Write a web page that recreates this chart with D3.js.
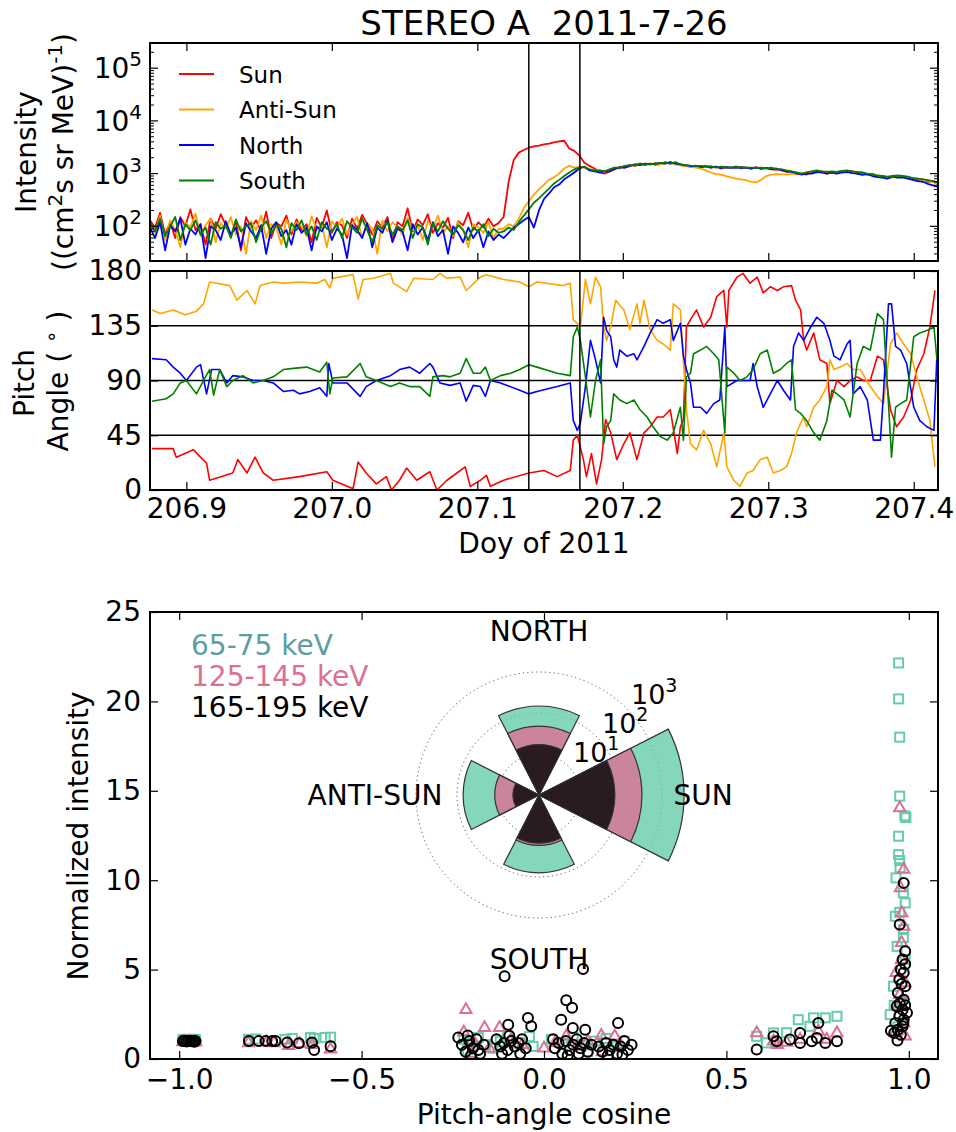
<!DOCTYPE html>
<html>
<head>
<meta charset="utf-8">
<script src="https://cdn.jsdelivr.net/npm/d3@7"></script>
<style>
  body { margin: 0; background: #fff; }
  svg { display: block; }
  text { white-space: pre; }
</style>
</head>
<body>
<svg id="fig" width="956" height="1132"></svg>
<script>
// ---------------------------------------------------------------
// STEREO A, 2011-07-26: sectored electron intensities, pitch angles
// of the four sectors, and normalized intensity vs pitch-angle cosine.
// ---------------------------------------------------------------

// Time base: minutes after 21:00 UT on DOY 206, 5-minute cadence
const startDoy = 206.875;
const endDoy = 207.41667;
const cadenceMin = 5;
const doyTicks = [206.9, 207.0, 207.1, 207.2, 207.3, 207.4];
const eventDoys = [207.1354, 207.1705];

// Sector intensities, (cm^2 s sr MeV)^-1
const sunFlux = [130,95,180,70,120,60,150,100,210,85, 110,45,140,90,170,105,65,125,35,150,
  95,130,80,190,60,115,100,160,70,135, 85,110,50,145,95,200,75,120,105,60,
  140,90,165,110,70,125,95,150,55,120, 100,220,80,135,105,170,75,115,95,145,
  60,125,105,180,85,120,95,140,100,115,
  150,700,1800,2500,2800,3100,3300,3400,3600,3700,3900,4100,4200,3000,2700,2200,1600,1400,1250,
  1050,1000,1100,1200,1350,1300,1450,1400,1550,1450, 1550,1480,1500,1650,1550,1600,1450,1400,1350,1420,
  1300,1380,1300,1350,1250,1320,1280,1350,1260,1300, 1250,1320,1230,1280,1220,1180,1200,1080,1100,980,
  1000,960,1080,1050,1100,1000,1080,1020,1100,1050, 1120,1000,1040,950,980,880,900,820,880,860,
  900,830,820,760,780,700,720,630];
const antiSunFlux = [110,75,160,55,130,85,40,120,95,175, 65,105,140,50,115,90,150,70,100,30,
  125,85,160,60,110,95,45,135,80,120, 100,65,155,85,110,40,125,95,140,70,
  105,150,60,115,90,30,130,80,120,95, 70,145,85,110,55,125,90,160,75,100,
  65,120,85,40,110,95,75,120,60,90,
  90,110,100,140,220,300,400,500,620,760,850,1000,1250,1400,1300,1350,1300,1200,1150,
  1150,1100,1200,1300,1250,1400,1350,1500,1450,1550, 1480,1600,1500,1550,1650,1500,1450,1400,1350,1300,
  1250,1150,1050,980,960,900,850,800,780,750, 700,680,760,900,960,980,970,960,980,1000,
  1000,1050,1080,1120,1050,1100,1030,1080,1120,1060, 1100,1020,1050,960,1000,920,880,860,840,900,
  870,860,820,800,760,740,690,640];
const northFlux = [95,60,120,35,105,80,140,45,90,70, 110,25,100,85,55,125,70,95,40,115,
  80,60,105,30,90,120,65,85,45,110, 75,95,35,100,80,120,55,90,70,25,
  105,85,60,115,40,95,75,130,50,90, 80,35,110,70,95,55,120,65,85,30,
  100,75,50,95,60,85,40,80,55,70,
  60,75,95,110,130,150,95,200,330,420,550,620,780,900,1050,1250,1350,1150,1100,
  1050,1100,1100,1250,1300,1300,1400,1500,1450,1550, 1500,1550,1600,1550,1650,1550,1500,1450,1380,1400,
  1350,1380,1300,1350,1280,1320,1300,1280,1320,1300, 1250,1300,1250,1280,1200,1250,1150,1100,1080,1020,
  960,1000,1000,1080,1050,1000,1040,1000,1050,1080, 1020,1000,950,980,900,860,840,800,880,840,
  850,800,760,720,700,640,600,560];
const southFlux = [120,80,140,65,100,150,55,110,85,130, 70,95,45,120,90,105,60,135,80,100,
  115,50,95,125,75,105,90,40,115,85, 130,70,100,55,120,90,80,110,60,125,
  95,75,140,85,50,105,90,120,70,100, 85,130,60,110,95,45,115,80,125,90,
  70,105,85,55,95,80,110,65,90,75,
  80,95,85,120,160,210,280,340,420,520,650,760,900,1050,1200,1300,1350,1200,1150,
  1150,1100,1200,1300,1300,1400,1450,1450,1550,1500, 1550,1500,1600,1600,1550,1650,1500,1450,1420,1400,
  1400,1350,1380,1300,1350,1320,1300,1350,1320,1300, 1300,1280,1300,1250,1300,1220,1200,1150,1100,1050,
  1000,1050,1100,1150,1100,1080,1100,1080,1120,1150, 1100,1080,1050,1000,980,920,900,880,900,920,
  900,880,820,800,780,750,720,680];

// Sector pitch angles: [minutes after 21:00 UT, degrees]
const sunPitch = [[2,34],[23,34],[26,27],[43,33],[50,27],[56,22],[59,8],[82,14],[87,25],[96,14],[104,27],[112,14],
  [122,8],[148,11],[175,15],[181,8],[201,1],[206,23],[214,14],[224,5],[234,11],[239,0],[247,8],[254,18],[264,8],
  [277,15],[284,0],[294,8],[312,19],[317,3],[327,8],[333,12],[337,3],[350,8],[375,14],[390,16],[403,11],[416,16],
  [419,41],[423,45],[429,25],[432,11],[437,30],[442,5],[447,25],[451,58],[456,47],[462,25],[469,38],[475,47],
  [482,25],[489,47],[495,52],[502,60],[508,60],[515,66],[522,30],[525,52],[528,58],[531,134],[535,140],[541,148],
  [548,134],[555,142],[561,159],[568,164],[571,134],[573,164],[581,175],[587,178],[594,170],[601,175],[607,162],
  [614,167],[621,164],[627,167],[635,168],[639,156],[644,148],[647,123],[650,115],[657,129],[663,107],[670,104],
  [673,71],[680,90],[687,85],[693,90],[700,93],[706,90],[713,90],[720,110],[726,107],[733,66],[739,52],[746,60],
  [753,74],[759,99],[766,112],[772,134],[777,164]];
const antiSunPitch = [[2,148],[10,145],[23,148],[35,144],[46,147],[53,153],[59,171],[79,168],[86,156],[96,164],
  [104,153],[109,168],[122,171],[132,170],[148,171],[165,170],[173,173],[178,166],[181,174],[201,177],[206,157],
  [211,173],[221,174],[238,178],[241,170],[254,163],[261,174],[280,173],[287,178],[294,174],[307,175],[313,164],
  [327,175],[333,177],[350,173],[366,171],[375,167],[383,171],[409,168],[416,170],[419,140],[423,137],[426,134],
  [431,173],[436,153],[441,175],[446,167],[449,134],[452,123],[456,134],[461,156],[469,148],[475,132],[482,153],
  [485,137],[489,156],[495,132],[502,123],[508,120],[515,115],[518,153],[525,148],[528,107],[531,66],[535,38],
  [541,33],[548,49],[555,38],[561,19],[568,47],[571,19],[578,8],[584,3],[591,14],[597,16],[604,25],[611,27],
  [617,14],[624,16],[630,19],[635,30],[640,47],[644,55],[647,60],[650,52],[657,68],[663,74],[670,85],[673,107],
  [677,99],[683,101],[690,104],[696,99],[703,99],[713,85],[720,77],[726,71],[733,120],[739,129],[746,120],
  [753,112],[759,93],[766,74],[772,57],[777,19]];
const northPitch = [[2,108],[16,107],[23,101],[30,96],[36,90],[46,101],[50,103],[56,79],[61,99],[69,99],[76,88],
  [82,94],[92,93],[102,90],[112,90],[122,88],[132,81],[142,82],[148,79],[158,81],[168,84],[175,77],[177,104],
  [181,88],[195,88],[208,77],[214,85],[224,90],[238,94],[247,99],[257,101],[267,96],[277,104],[280,101],[287,88],
  [297,86],[307,88],[313,73],[320,86],[327,85],[332,77],[337,90],[347,88],[366,82],[375,79],[383,81],[403,85],
  [416,88],[419,57],[423,49],[426,55],[431,85],[436,123],[441,107],[446,88],[449,142],[452,131],[456,126],
  [459,107],[462,101],[465,115],[472,110],[479,112],[482,107],[489,118],[495,129],[502,140],[508,137],[515,140],
  [518,123],[525,137],[528,110],[531,99],[535,88],[538,68],[545,68],[551,63],[558,71],[564,74],[569,134],[571,85],
  [581,90],[594,90],[597,104],[601,85],[607,68],[614,79],[621,90],[627,82],[634,74],[637,118],[642,129],[647,123],
  [654,134],[660,142],[667,137],[673,123],[677,110],[683,107],[690,120],[693,123],[696,79],[703,85],[710,74],
  [716,41],[723,41],[726,79],[731,153],[734,153],[738,118],[743,115],[749,104],[756,68],[762,57],[769,52],
  [776,49],[779,112]];
const southPitch = [[2,73],[16,75],[23,79],[30,88],[36,90],[46,79],[53,90],[59,99],[63,78],[69,99],[76,85],[82,90],
  [92,94],[102,88],[112,90],[122,93],[132,99],[142,100],[155,101],[168,97],[175,105],[178,79],[181,92],[195,93],
  [208,104],[214,93],[224,90],[238,85],[247,88],[257,85],[267,85],[277,77],[280,93],[290,94],[297,93],[307,96],
  [313,108],[320,96],[327,96],[332,101],[337,90],[347,94],[357,96],[366,99],[375,103],[383,101],[403,96],[416,94],
  [419,126],[423,134],[426,123],[431,93],[436,60],[441,90],[446,107],[449,38],[452,52],[456,57],[459,79],[465,74],
  [472,71],[479,74],[485,66],[492,60],[498,52],[505,44],[512,41],[518,47],[525,68],[528,41],[531,93],[535,96],
  [538,112],[545,115],[551,118],[558,112],[563,107],[569,47],[571,101],[578,96],[584,90],[591,93],[597,99],
  [604,112],[611,115],[617,96],[624,99],[630,104],[635,107],[639,66],[644,63],[650,57],[657,47],[663,41],[670,57],
  [675,82],[680,79],[687,74],[693,60],[700,104],[706,118],[713,115],[720,145],[726,140],[731,71],[734,27],[738,68],
  [743,71],[749,74],[756,126],[762,129],[769,131],[776,134],[779,107]];

const sectorNames = ["Sun", "Anti-Sun", "North", "South"];
const sectorColors = ["#ff0000", "#ffa500", "#0000ff", "#008000"];
const intensityTickExps = [2, 3, 4, 5];
const pitchTicks = [0, 45, 90, 135, 180];
const pitchRefLines = [45, 90, 135];

// Normalized intensity vs pitch-angle cosine: [mu, normalized intensity]
const bandLabels = ["65-75 keV", "125-145 keV", "165-195 keV"];
const lowBandPts = [[-0.99,1.08],[-0.985,1.1],[-0.98,1.06],[-0.975,1.1],[-0.97,1.08],[-0.965,1.05],[-0.96,1.1],[-0.955,1.08],
  [-0.81,1.1],[-0.79,1.12],[-0.71,1.1],[-0.69,1.15],[-0.64,1.2],[-0.63,1.15],[-0.6,1.2],[-0.585,1.22],
  [-0.22,1.1],[-0.2,0.9],[-0.18,1.2],[-0.16,0.8],[-0.12,1.0],[-0.1,1.3],[-0.07,0.9],[-0.04,1.25],[-0.03,0.7],
  [0.02,1.1],[0.05,0.9],[0.08,1.2],[0.11,0.8],[0.14,1.0],[0.17,1.15],[0.2,0.7],[0.22,1.0],[-0.21,0.5],[0.12,0.4],[-0.14,0.6],
  [0.583,1.27],[0.629,1.46],[0.665,1.47],[0.697,2.2],[0.729,1.83],[0.739,2.3],[0.771,2.3],[0.803,2.39],[0.61,0.9],
  [0.972,22.15],[0.972,20.14],[0.975,18.0],[0.975,14.7],[0.989,13.6],[0.992,13.5],[0.972,12.46],[0.972,11.43],
  [0.975,11.1],[0.976,10.7],[0.965,10.13],[0.99,8.73],[0.963,7.98],[0.986,7.24],[0.968,6.3],[0.985,6.8],[0.99,5.56],
  [0.958,4.07],[0.949,2.48],[0.98,3.2],[0.97,1.8],[0.985,9.3],[0.975,8.2],[0.96,3.0]];
const midBandPts = [[-0.99,0.95],[-0.98,0.93],[-0.97,0.96],[-0.96,0.94],[-0.955,0.95],
  [-0.81,0.9],[-0.76,0.95],[-0.74,0.9],[-0.67,0.85],[-0.635,0.8],[-0.585,0.55],[-0.7,0.75],
  [-0.214,2.76],[-0.22,1.5],[-0.163,1.75],[-0.122,1.75],[0.061,1.27],[0.157,1.31],[0.194,1.27],[-0.19,0.9],[-0.15,0.6],
  [-0.09,1.1],[-0.06,0.8],[0.03,0.9],[0.09,0.7],[0.12,1.0],[0.21,0.8],[-0.2,0.3],[0.16,0.4],[0.0,0.6],
  [0.583,1.46],[0.629,0.99],[0.665,0.92],[0.702,1.09],[0.752,1.55],[0.775,1.09],[0.803,1.46],[0.64,0.8],
  [0.975,14.04],[0.986,10.6],[0.977,9.57],[0.981,8.17],[0.986,7.42],[0.98,5.56],[0.965,4.82],[0.99,4.26],[0.97,2.95],
  [0.986,2.02],[0.962,1.46],[0.99,1.27],[0.975,3.6],[0.98,6.5]];
const highBandPts = [[-0.99,1.0],[-0.985,1.02],[-0.98,0.98],[-0.975,1.0],[-0.97,1.01],[-0.965,0.99],[-0.96,1.0],[-0.955,1.0],[-0.958,0.97],
  [-0.809,1.0],[-0.782,1.0],[-0.763,1.0],[-0.745,1.0],[-0.736,1.0],[-0.704,0.92],[-0.672,0.88],[-0.636,0.92],[-0.585,0.71],[-0.63,0.5],
  [-0.108,4.63],[0.107,5.04],[0.061,3.28],[0.077,2.86],[-0.044,2.3],[-0.035,1.83],[-0.098,1.92],[0.047,2.2],[0.079,1.74],[0.113,1.64],[0.203,2.02],
  [-0.235,1.2],[-0.225,0.8],[-0.215,0.4],[-0.205,1.0],[-0.195,0.6],[-0.185,1.1],[-0.175,0.3],[-0.165,0.8],[-0.2,0.2],[-0.18,0.5],[-0.209,1.31],
  [-0.13,1.1],[-0.12,0.7],[-0.11,0.9],[-0.1,0.5],[-0.09,1.0],[-0.08,0.7],[-0.07,0.9],[-0.06,1.1],[-0.05,0.6],[-0.065,0.3],[-0.115,0.3],[-0.095,1.3],
  [0.03,0.6],[0.04,0.9],[0.05,0.3],[0.06,1.0],[0.07,0.5],[0.08,0.8],[0.09,1.1],[0.1,0.6],[0.11,0.9],[0.12,0.4],[0.13,0.8],[0.065,0.2],[0.095,0.3],[0.025,1.1],
  [0.15,0.7],[0.16,0.4],[0.17,0.9],[0.18,0.5],[0.19,0.8],[0.2,0.3],[0.21,0.7],[0.22,1.0],[0.23,0.5],[0.24,0.8],[0.175,0.2],[0.215,0.25],
  [0.583,0.53],[0.629,1.27],[0.638,0.99],[0.674,1.09],[0.702,1.46],[0.702,0.9],[0.734,0.99],[0.752,2.02],[0.748,1.18],[0.771,0.9],[0.803,0.99],
  [0.986,9.85],[0.975,7.52],[0.99,6.02],[0.983,5.56],[0.978,5.0],[0.986,4.82],[0.974,4.44],[0.99,4.07],[0.97,3.7],[0.986,3.32],
  [0.967,2.95],[0.983,2.76],[0.995,2.58],[0.974,2.39],[0.986,2.2],[0.963,2.02],[0.983,1.83],[0.97,1.64],[0.96,1.46],[0.978,1.36],
  [0.969,1.03],[0.951,1.58],[0.99,3.0],[0.98,4.2],[0.975,3.1],[0.99,5.3],[0.985,2.0]];
const muTicks = [-1, -0.5, 0, 0.5, 1];
const normTicks = [0, 5, 10, 15, 20, 25];

// Sector-averaged intensities for the rose: Sun, North, Anti-Sun, South
const roseDirections = ["SUN", "NORTH", "ANTI-SUN", "SOUTH"];
const roseAnglesDeg = [90, 0, 270, 180];   // clockwise from up
const roseLow = [3460, 148, 71, 79];
const roseMid = [324, 48, 12, 17];
const roseHigh = [71, 17, 4.3, 15];
const roseRingExps = [1, 2, 3];

// ---------------------------------------------------------------
const FAMILY = "DejaVu Sans, Liberation Sans, sans-serif";
const svg = d3.select("#fig").attr("font-family", FAMILY);
const defs = svg.append("defs");

const topBox = { l: 150, r: 938, t: 43, b: 261 };
const paBox  = { l: 150, r: 938, t: 271, b: 490 };
const scBox  = { l: 150, r: 938, t: 612, b: 1059 };

function clipFor(id, b) {
  defs.append("clipPath").attr("id", id).append("rect")
    .attr("x", b.l).attr("y", b.t).attr("width", b.r - b.l).attr("height", b.b - b.t);
  return `url(#${id})`;
}
function frame(b) {
  svg.append("rect").attr("x", b.l).attr("y", b.t).attr("width", b.r - b.l).attr("height", b.b - b.t)
    .attr("fill", "none").attr("stroke", "#000").attr("stroke-width", 2);
}
function styleAxis(g, keepText, size) {
  g.attr("font-family", FAMILY).attr("font-size", size || 28);
  g.select(".domain").remove();
  g.selectAll(".tick line").attr("stroke", "#000").attr("stroke-width", 1.2);
  if (!keepText) g.selectAll(".tick text").remove();
  else g.selectAll(".tick text").attr("fill", "#000");
}

// ---- scales ----
const x = d3.scaleLinear().domain([startDoy, endDoy]).range([topBox.l, topBox.r]);
const yI = d3.scaleLog().domain([22, 3e5]).range([topBox.b, topBox.t]);
const yP = d3.scaleLinear().domain([0, 180]).range([paBox.b, paBox.t]);
const xMu = d3.scaleLinear().domain([-1.08, 1.08]).range([scBox.l, scBox.r]);
const yN = d3.scaleLinear().domain([0, 25]).range([scBox.b, scBox.t]);
const minToDoy = m => startDoy + m / 1440;

// ---- title ----
svg.append("text").attr("x", 544).attr("y", 35).attr("text-anchor", "middle")
  .attr("font-size", 34).text("STEREO A\u00a0\u00a02011-7-26");

// ================= Panel 1: intensities =================
const clipTop = clipFor("clipTop", topBox);
const fluxes = [sunFlux, antiSunFlux, northFlux, southFlux];
const gFlux = svg.append("g").attr("clip-path", clipTop);
const fluxLine = d3.line()
  .x((d, i) => x(minToDoy(i * cadenceMin)))
  .y(d => yI(d));
fluxes.forEach((arr, k) => {
  gFlux.append("path").attr("d", fluxLine(arr)).attr("fill", "none")
    .attr("stroke", sectorColors[k]).attr("stroke-width", 1.8).attr("stroke-linejoin", "round");
});
eventDoys.forEach(d => {
  svg.append("line").attr("x1", x(d)).attr("x2", x(d)).attr("y1", topBox.t).attr("y2", topBox.b)
    .attr("stroke", "#000").attr("stroke-width", 1.5);
});

// log ticks: majors + minors on both sides
const minorVals = [];
for (let e = 1; e <= 5; e++) for (let m = 2; m <= 9; m++) {
  const v = m * Math.pow(10, e);
  if (v >= yI.domain()[0] && v <= yI.domain()[1]) minorVals.push(v);
}
const majorVals = intensityTickExps.map(e => Math.pow(10, e));
[["L", topBox.l, 1], ["R", topBox.r, -1]].forEach(([side, xx, dir]) => {
  majorVals.forEach(v => svg.append("line").attr("x1", xx).attr("x2", xx + dir * 8)
    .attr("y1", yI(v)).attr("y2", yI(v)).attr("stroke", "#000").attr("stroke-width", 1.2));
  minorVals.forEach(v => svg.append("line").attr("x1", xx).attr("x2", xx + dir * 4)
    .attr("y1", yI(v)).attr("y2", yI(v)).attr("stroke", "#000").attr("stroke-width", 1));
});
intensityTickExps.forEach(e => {
  const t = svg.append("text").attr("x", 142).attr("y", yI(Math.pow(10, e)) + 10)
    .attr("text-anchor", "end").attr("font-size", 28);
  t.append("tspan").text("10");
  t.append("tspan").attr("dy", -12).attr("font-size", 20).text(e);
});
styleAxis(svg.append("g").attr("transform", `translate(0,${topBox.b})`)
  .call(d3.axisBottom(x).tickValues(doyTicks).tickSizeInner(-8).tickSizeOuter(0)), false);
styleAxis(svg.append("g").attr("transform", `translate(0,${topBox.t})`)
  .call(d3.axisTop(x).tickValues(doyTicks).tickSizeInner(-8).tickSizeOuter(0)), false);
frame(topBox);

// legend
const legRows = [74, 109.5, 145, 180.5];
sectorNames.forEach((name, k) => {
  svg.append("line").attr("x1", 179).attr("x2", 214).attr("y1", legRows[k]).attr("y2", legRows[k])
    .attr("stroke", sectorColors[k]).attr("stroke-width", 1.8);
  svg.append("text").attr("x", 239).attr("y", legRows[k] + 8.5).attr("font-size", 23).text(name);
});

// y label
svg.append("text").attr("transform", `translate(36,152) rotate(-90)`).attr("text-anchor", "middle")
  .attr("font-size", 28).text("Intensity");
{
  const t = svg.append("text").attr("transform", `translate(73,152) rotate(-90)`)
    .attr("text-anchor", "middle").attr("font-size", 28);
  t.append("tspan").text("((cm");
  t.append("tspan").attr("dy", -11).attr("font-size", 20).text("2");
  t.append("tspan").attr("dy", 11).text("s sr MeV)");
  t.append("tspan").attr("dy", -11).attr("font-size", 20).text("-1");
  t.append("tspan").attr("dy", 11).text(")");
}

// ================= Panel 2: pitch angles =================
const clipPa = clipFor("clipPa", paBox);
pitchRefLines.forEach(v => {
  svg.append("line").attr("x1", paBox.l).attr("x2", paBox.r).attr("y1", yP(v)).attr("y2", yP(v))
    .attr("stroke", "#000").attr("stroke-width", 1.3);
});
const gPa = svg.append("g").attr("clip-path", clipPa);
const paLine = d3.line().x(d => x(minToDoy(d[0]))).y(d => yP(d[1]));
[sunPitch, antiSunPitch, northPitch, southPitch].forEach((arr, k) => {
  gPa.append("path").attr("d", paLine(arr)).attr("fill", "none")
    .attr("stroke", sectorColors[k]).attr("stroke-width", 1.6).attr("stroke-linejoin", "round");
});
eventDoys.forEach(d => {
  svg.append("line").attr("x1", x(d)).attr("x2", x(d)).attr("y1", paBox.t).attr("y2", paBox.b)
    .attr("stroke", "#000").attr("stroke-width", 1.5);
});
styleAxis(svg.append("g").attr("transform", `translate(0,${paBox.b})`)
  .call(d3.axisBottom(x).tickValues(doyTicks).tickFormat(d3.format(".1f"))
    .tickSizeInner(-8).tickSizeOuter(0).tickPadding(8)), true);
styleAxis(svg.append("g").attr("transform", `translate(0,${paBox.t})`)
  .call(d3.axisTop(x).tickValues(doyTicks).tickSizeInner(-8).tickSizeOuter(0)), false);
styleAxis(svg.append("g").attr("transform", `translate(${paBox.l},0)`)
  .call(d3.axisLeft(yP).tickValues(pitchTicks).tickFormat(d3.format("d"))
    .tickSizeInner(-8).tickSizeOuter(0).tickPadding(8)), true);
styleAxis(svg.append("g").attr("transform", `translate(${paBox.r},0)`)
  .call(d3.axisRight(yP).tickValues(pitchTicks).tickSizeInner(-8).tickSizeOuter(0)), false);
frame(paBox);

svg.append("text").attr("transform", `translate(34,383) rotate(-90)`).attr("text-anchor", "middle")
  .attr("font-size", 28).text("Pitch");
{
  const t = svg.append("text").attr("transform", `translate(68,381) rotate(-90)`)
    .attr("text-anchor", "middle").attr("font-size", 28);
  t.append("tspan").text("Angle ( ");
  t.append("tspan").attr("dy", -10).attr("font-size", 20).text("\u2218");
  t.append("tspan").attr("dy", 10).text(" )");
}
svg.append("text").attr("x", 544).attr("y", 553).attr("text-anchor", "middle")
  .attr("font-size", 28).text("Doy of 2011");

// ================= Panel 3: normalized intensity vs mu =================
const clipSc = clipFor("clipSc", scBox);
const gSc = svg.append("g").attr("clip-path", clipSc);
const teal = "#66cdaa", pink = "#db7093";
gSc.selectAll("rect.lo").data(lowBandPts).join("rect").attr("class", "lo")
  .attr("x", d => xMu(d[0]) - 4.5).attr("y", d => yN(d[1]) - 4.5)
  .attr("width", 9).attr("height", 9).attr("fill", "none").attr("stroke", teal).attr("stroke-width", 2);
gSc.selectAll("path.mid").data(midBandPts).join("path").attr("class", "mid")
  .attr("transform", d => `translate(${xMu(d[0])},${yN(d[1])})`)
  .attr("d", "M0,-6.5L5.6,3.3L-5.6,3.3Z").attr("fill", "none").attr("stroke", pink).attr("stroke-width", 2);
gSc.selectAll("circle.hi").data(highBandPts).join("circle").attr("class", "hi")
  .attr("cx", d => xMu(d[0])).attr("cy", d => yN(d[1])).attr("r", 5)
  .attr("fill", "none").attr("stroke", "#000").attr("stroke-width", 2);

styleAxis(svg.append("g").attr("transform", `translate(0,${scBox.b})`)
  .call(d3.axisBottom(xMu).tickValues(muTicks).tickFormat(d3.format(".1f"))
    .tickSizeInner(-8).tickSizeOuter(0).tickPadding(10)), true);
styleAxis(svg.append("g").attr("transform", `translate(0,${scBox.t})`)
  .call(d3.axisTop(xMu).tickValues(muTicks).tickSizeInner(-8).tickSizeOuter(0)), false);
styleAxis(svg.append("g").attr("transform", `translate(${scBox.l},0)`)
  .call(d3.axisLeft(yN).tickValues(normTicks).tickFormat(d3.format("d"))
    .tickSizeInner(-8).tickSizeOuter(0).tickPadding(9)), true);
styleAxis(svg.append("g").attr("transform", `translate(${scBox.r},0)`)
  .call(d3.axisRight(yN).tickValues(normTicks).tickSizeInner(-8).tickSizeOuter(0)), false);
frame(scBox);

svg.append("text").attr("transform", `translate(88,836) rotate(-90)`).attr("text-anchor", "middle")
  .attr("font-size", 28).text("Normalized intensity");
svg.append("text").attr("x", 544).attr("y", 1124).attr("text-anchor", "middle")
  .attr("font-size", 28).text("Pitch-angle cosine");

const bandColors = ["#5f9ea0", pink, "#000"];
bandLabels.forEach((lab, k) => {
  svg.append("text").attr("x", 191).attr("y", 655 + k * 31).attr("font-size", 28)
    .attr("fill", bandColors[k]).text(lab);
});

// ---- rose inset (log-radius wedges per sector) ----
const rc = { x: 539, y: 795 };
const rLog = d3.scaleLinear().domain([0, 3]).range([0, 123]);
const halfWidth = 27 * Math.PI / 180;
const gRose = svg.append("g").attr("transform", `translate(${rc.x},${rc.y})`);
roseRingExps.forEach(e => {
  gRose.append("circle").attr("r", rLog(e)).attr("fill", "none")
    .attr("stroke", "#555").attr("stroke-width", 1).attr("stroke-dasharray", "1.2,3.2");
});
const arc = d3.arc().innerRadius(0);
[[roseLow, teal], [roseMid, pink], [roseHigh, "#000"]].forEach(([vals, col]) => {
  vals.forEach((v, i) => {
    const a = roseAnglesDeg[i] * Math.PI / 180;
    gRose.append("path")
      .attr("d", arc({ outerRadius: rLog(Math.log10(v)), startAngle: a - halfWidth, endAngle: a + halfWidth }))
      .attr("fill", col).attr("fill-opacity", 0.8).attr("stroke", "#333").attr("stroke-width", 1.2);
  });
});
roseRingExps.forEach(e => {
  const r = rLog(e) * Math.SQRT1_2;
  const t = gRose.append("text").attr("x", r + 5).attr("y", -r - 4).attr("font-size", 27);
  t.append("tspan").text("10");
  t.append("tspan").attr("dy", -12).attr("font-size", 19).text(e);
});
roseDirections.forEach((name, i) => {
  const a = roseAnglesDeg[i] * Math.PI / 180;
  gRose.append("text").attr("x", 164 * Math.sin(a)).attr("y", -164 * Math.cos(a) + 10)
    .attr("text-anchor", "middle").attr("font-size", 28).text(name);
});
</script>
</body>
</html>
